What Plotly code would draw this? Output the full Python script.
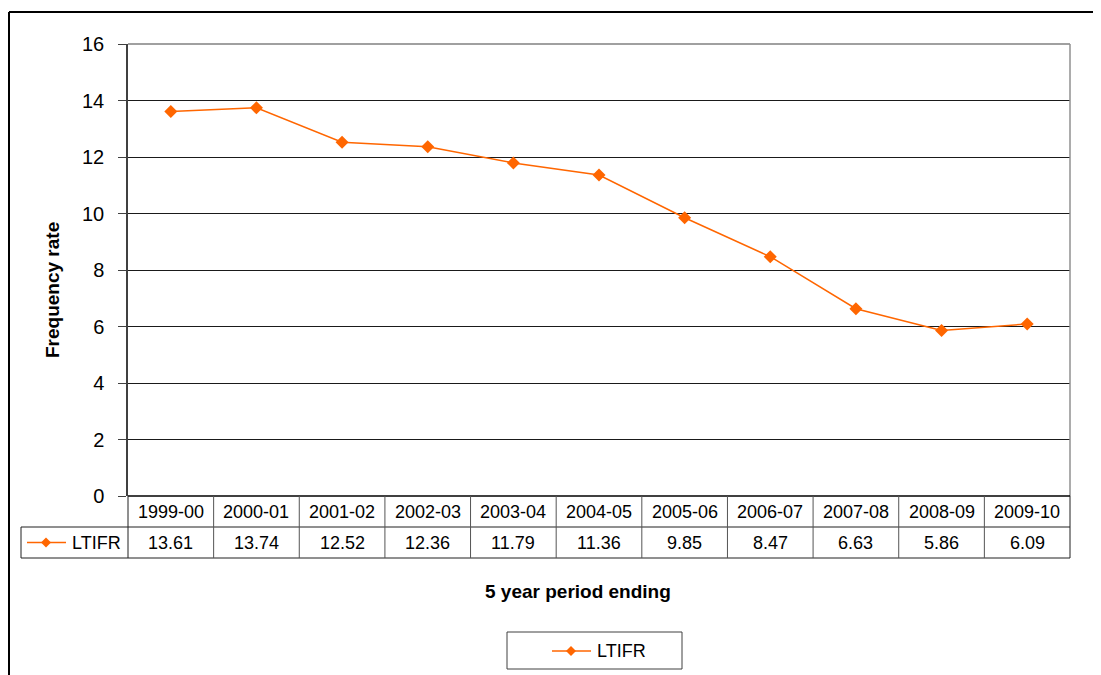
import plotly.graph_objects as go

categories = ["1999-00", "2000-01", "2001-02", "2002-03", "2003-04", "2004-05",
              "2005-06", "2006-07", "2007-08", "2008-09", "2009-10"]
ltifr = [13.61, 13.74, 12.52, 12.36, 11.79, 11.36, 9.85, 8.47, 6.63, 5.86, 6.09]
series_name = "LTIFR"
y_ticks = [0, 2, 4, 6, 8, 10, 12, 14, 16]

# the page body adds an 8px offset, so the figure is drawn 8px smaller
OFF = 8
W, H = 1101 - OFF, 675 - OFF
# plot area, in page pixels
L, R, T, B = 128, 1070, 44, 496
PW, PH = R - L, B - T
ORANGE = "#FF6600"
FONT = "Liberation Sans, Arial, sans-serif"


def px(x):
    return (x - L) / PW


def py(y):
    return (B - y) / PH


n = len(categories)
fig = go.Figure()
fig.add_trace(go.Scatter(
    x=list(range(n)), y=ltifr, mode="lines+markers", name=series_name,
    line=dict(color=ORANGE, width=1.5),
    marker=dict(symbol="diamond", size=10, color=ORANGE),
    showlegend=False, cliponaxis=False,
))

shapes = []
annotations = []

# plot area border (gray top and right)
shapes.append(dict(type="line", xref="paper", yref="paper", x0=0, x1=1, y0=1, y1=1,
                   line=dict(color="#808080", width=1.5)))
shapes.append(dict(type="line", xref="paper", yref="paper", x0=1, x1=1, y0=0, y1=1,
                   line=dict(color="#909090", width=1.5)))

# data table
row1 = py(527)
row2 = py(558)
keyx = px(21)
tc = "#202020"
shapes.append(dict(type="line", xref="paper", yref="paper", x0=0, x1=1, y0=0, y1=0,
                   line=dict(color="black", width=1.5)))
shapes.append(dict(type="line", xref="paper", yref="paper", x0=keyx, x1=1, y0=row1, y1=row1,
                   line=dict(color=tc, width=1)))
shapes.append(dict(type="line", xref="paper", yref="paper", x0=keyx, x1=1, y0=row2, y1=row2,
                   line=dict(color=tc, width=1)))
shapes.append(dict(type="line", xref="paper", yref="paper", x0=keyx, x1=keyx, y0=row1, y1=row2,
                   line=dict(color=tc, width=1)))
for i in range(n + 1):
    xx = i / n
    shapes.append(dict(type="line", xref="paper", yref="paper", x0=xx, x1=xx, y0=0, y1=row2,
                       line=dict(color=tc if i in (0, n) else "#555555", width=1)))

for i, (c, v) in enumerate(zip(categories, ltifr)):
    xc = (i + 0.5) / n
    annotations.append(dict(x=xc, y=(0 + row1) / 2, xref="paper", yref="paper", text=c,
                            xanchor="center", yanchor="middle", showarrow=False,
                            font=dict(size=18, color="black", family=FONT)))
    annotations.append(dict(x=xc, y=(row1 + row2) / 2, xref="paper", yref="paper",
                            text=f"{v:.2f}", xanchor="center", yanchor="middle",
                            showarrow=False, font=dict(size=18, color="black", family=FONT)))

# legend key inside the table
ky = (row1 + row2) / 2
shapes.append(dict(type="line", xref="paper", yref="paper", x0=px(27), x1=px(66), y0=ky, y1=ky,
                   line=dict(color=ORANGE, width=1.5)))


def diamond(cx, cy, r=5):
    return (f"M {px(cx)} {py(cy - r)} L {px(cx + r)} {py(cy)} L {px(cx)} {py(cy + r)} "
            f"L {px(cx - r)} {py(cy)} Z")


shapes.append(dict(type="path", xref="paper", yref="paper", path=diamond(46, 542.5),
                   fillcolor=ORANGE, line=dict(color=ORANGE, width=0)))
annotations.append(dict(x=px(70), y=ky, xref="paper", yref="paper", text=series_name,
                        xanchor="left", yanchor="middle", showarrow=False,
                        font=dict(size=18, color="black", family=FONT)))

# axis titles
annotations.append(dict(x=px(52), y=py(290), xref="paper", yref="paper",
                        text="<b>Frequency rate</b>", textangle=-90,
                        xanchor="center", yanchor="middle", showarrow=False,
                        font=dict(size=19, color="black", family=FONT)))
annotations.append(dict(x=px(578), y=py(591), xref="paper", yref="paper",
                        text="<b>5 year period ending</b>", xanchor="center", yanchor="middle",
                        showarrow=False, font=dict(size=19, color="black", family=FONT)))

# bottom legend
shapes.append(dict(type="rect", xref="paper", yref="paper", x0=px(507), x1=px(682),
                   y0=py(632), y1=py(669), line=dict(color="#404040", width=1)))
shapes.append(dict(type="line", xref="paper", yref="paper", x0=px(552), x1=px(591),
                   y0=py(651), y1=py(651), line=dict(color=ORANGE, width=1.5)))
shapes.append(dict(type="path", xref="paper", yref="paper", path=diamond(571, 651),
                   fillcolor=ORANGE, line=dict(color=ORANGE, width=0)))
annotations.append(dict(x=px(595), y=py(651), xref="paper", yref="paper", text=series_name,
                        xanchor="left", yanchor="middle", showarrow=False,
                        font=dict(size=18, color="black", family=FONT)))

# outer chart border
shapes.append(dict(type="line", xref="paper", yref="paper", x0=px(9), x1=px(1110),
                   y0=py(12), y1=py(12), line=dict(color="black", width=2)))
shapes.append(dict(type="line", xref="paper", yref="paper", x0=px(9), x1=px(9),
                   y0=py(12), y1=py(690), line=dict(color="black", width=2)))

fig.update_layout(
    width=W, height=H,
    margin=dict(l=L - OFF, r=W - (R - OFF), t=T - OFF, b=H - (B - OFF), pad=0),
    plot_bgcolor="white", paper_bgcolor="white",
    font=dict(family=FONT, color="black"),
    showlegend=False,
    shapes=shapes, annotations=annotations,
    xaxis=dict(range=[-0.5, n - 0.5], showticklabels=False, showgrid=False,
               zeroline=False, showline=False, ticks="", fixedrange=True),
    yaxis=dict(range=[0, 16], tickvals=y_ticks, showgrid=True, gridcolor="#1a1a1a",
               gridwidth=1, zeroline=False, showline=True, linecolor="#404040",
               linewidth=1.5, ticks="outside", ticklen=8, tickcolor="#404040",
               tickfont=dict(size=20, color="black", family=FONT), ticklabelstandoff=10),
)

fig.write_html("out.html")
